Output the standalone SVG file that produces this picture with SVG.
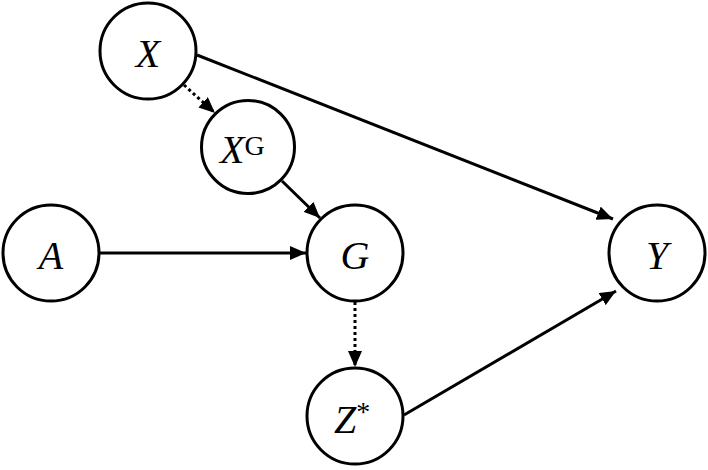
<svg xmlns="http://www.w3.org/2000/svg" width="708" height="470" viewBox="0 0 708 470">
<style>
.n{fill:#fff;stroke:#000;stroke-width:3}
.t{font-family:"Liberation Serif","Times New Roman",serif;font-style:italic;font-size:40px;fill:#000}
.s{font-size:28px;font-style:normal}
.e{stroke:#000;stroke-width:3;fill:none}
.d{stroke-dasharray:3 3}
</style>
<defs>
<marker id="ah" viewBox="0 0 16 14" refX="16" refY="7" markerWidth="16" markerHeight="14" markerUnits="userSpaceOnUse" orient="auto">
<path d="M0,0 L16,7 L0,14 z" fill="#000"/>
</marker>
</defs>
<rect width="708" height="470" fill="#fff"/>
<g id="edges">
<line class="e" x1="197" y1="55" x2="613" y2="219" marker-end="url(#ah)"/>
<line class="e d" x1="184" y1="85" x2="215" y2="113" marker-end="url(#ah)"/>
<line class="e" x1="282" y1="181" x2="320" y2="218" marker-end="url(#ah)"/>
<line class="e" x1="100" y1="253" x2="306" y2="253" marker-end="url(#ah)"/>
<line class="e d" x1="355" y1="302" x2="355" y2="367" marker-end="url(#ah)"/>
<line class="e" x1="404" y1="415" x2="616" y2="291" marker-end="url(#ah)"/>
</g>
<g id="X"><circle class="n" cx="148" cy="51" r="48"/><text class="t" x="148" y="67" text-anchor="middle">X</text></g>
<g id="XG"><circle class="n" cx="248" cy="147" r="46.5"/><text class="t" x="220" y="163">X<tspan class="s" dy="-8">G</tspan></text></g>
<g id="A"><circle class="n" cx="51" cy="253" r="48"/><text class="t" x="51" y="269" text-anchor="middle">A</text></g>
<g id="G"><circle class="n" cx="355" cy="253" r="48"/><text class="t" x="355" y="269" text-anchor="middle">G</text></g>
<g id="Y"><circle class="n" cx="657" cy="253" r="48"/><text class="t" x="657" y="269" text-anchor="middle">Y</text></g>
<g id="Zs"><circle class="n" cx="355" cy="416" r="48"/><text class="t" x="334" y="433">Z<tspan class="s" dy="-12">*</tspan></text></g>
</svg>
